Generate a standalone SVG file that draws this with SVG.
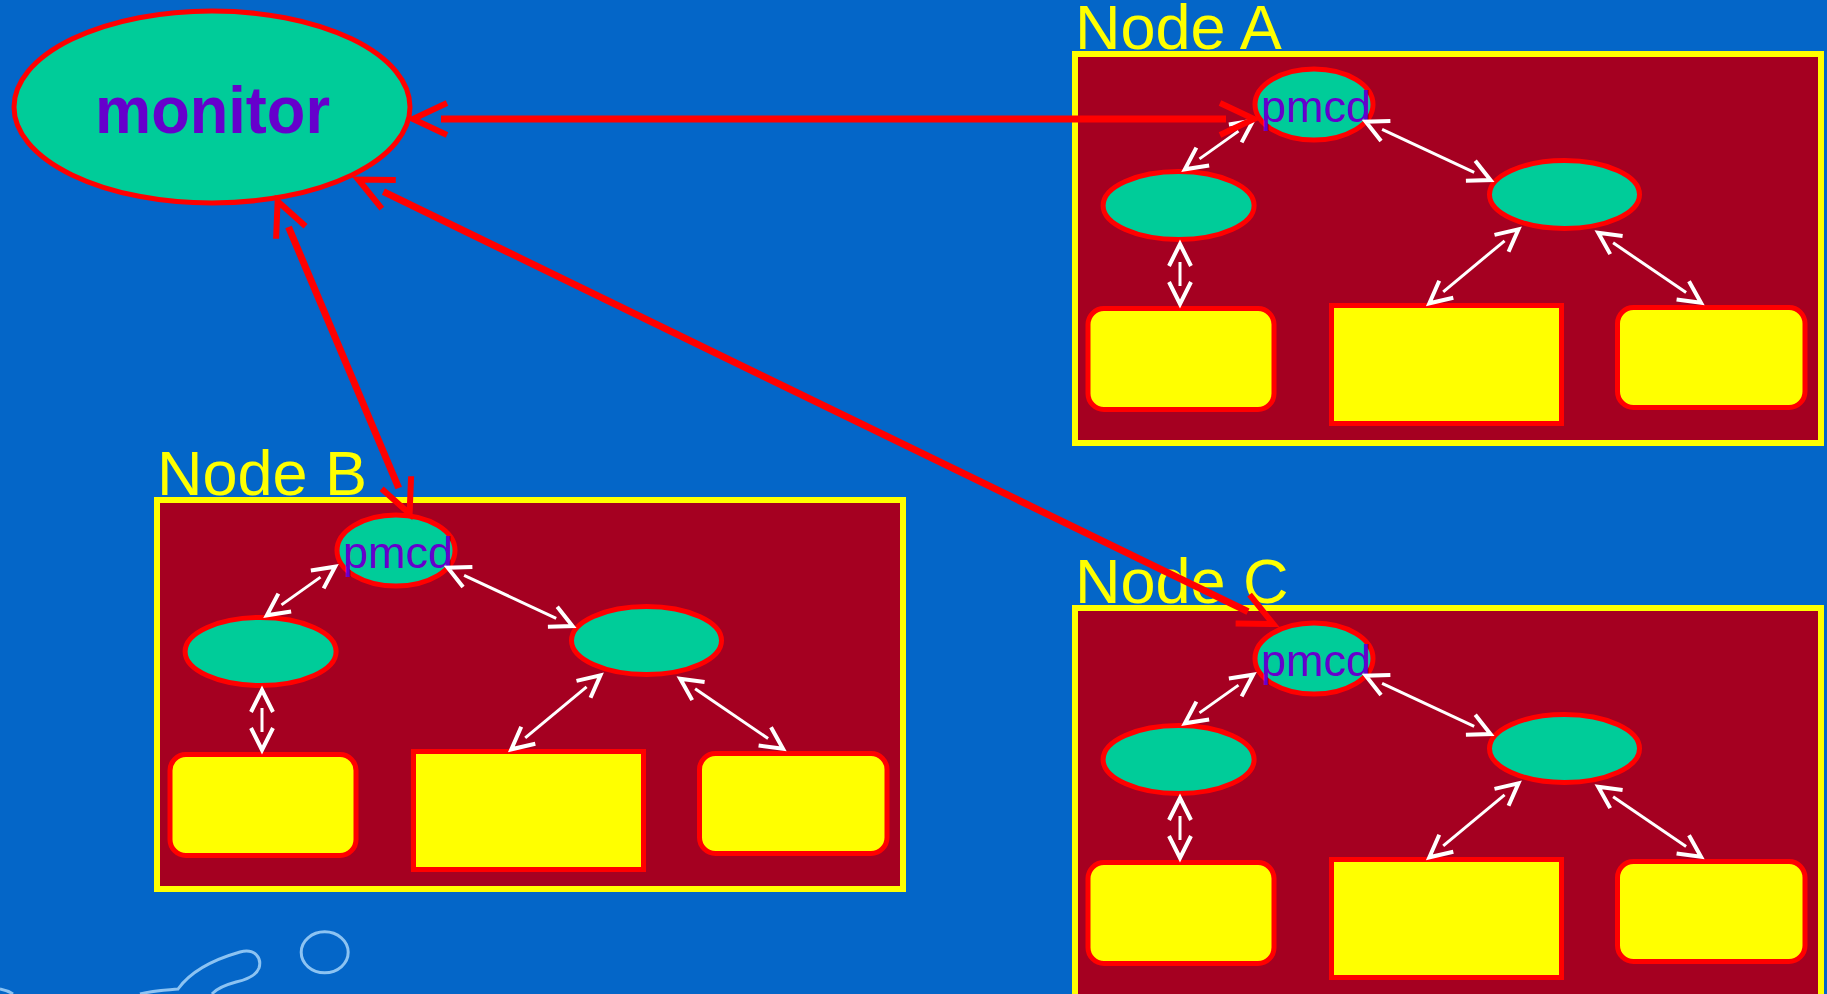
<svg xmlns="http://www.w3.org/2000/svg" width="1827" height="994" viewBox="0 0 1827 994">
<defs>
<style>
.bg{fill:#0466C8}
.box{fill:#A50021;stroke:#FFFF00;stroke-width:6}
.ell{fill:#00CC99;stroke:#FF0000;stroke-width:5}
.rbox{fill:#FFFF00;stroke:#FF0000;stroke-width:5}
.lbl{font-family:"Liberation Sans",Arial,sans-serif;font-size:63px;fill:#FFFF00}
.pm{font-family:"Liberation Sans",Arial,sans-serif;font-size:45px;fill:#6600CC;text-anchor:middle}
.mon{font-family:"Liberation Sans",Arial,sans-serif;font-size:66px;font-weight:bold;fill:#6600CC;text-anchor:middle}
.red{fill:none;stroke:#FF0000;stroke-width:7;marker-start:url(#rh);marker-end:url(#rh)}
.wht{fill:none;stroke:#FFFFFF;stroke-width:3;marker-start:url(#wh);marker-end:url(#wh)}
.deco{fill:none;stroke:#8CC3F2;stroke-width:3}
</style>
<marker id="rh" markerUnits="userSpaceOnUse" orient="auto-start-reverse" refX="0" refY="0" markerWidth="10" markerHeight="10" overflow="visible">
<path d="M-6,-16 L28,0 L-6,16" fill="none" stroke="#FF0000" stroke-width="6"/>
</marker>
<marker id="wh" markerUnits="userSpaceOnUse" orient="auto-start-reverse" refX="0" refY="0" markerWidth="10" markerHeight="10" overflow="visible">
<path d="M-4,-11 L18,0 L-4,11" fill="none" stroke="#FFFFFF" stroke-width="4"/>
</marker>
<g id="inner">
<rect class="box" x="1075" y="54" width="746" height="389"/>
<ellipse class="ell" cx="1314" cy="104.5" rx="59" ry="35.5"/>
<text class="pm" x="1316" y="122">pmcd</text>
<ellipse class="ell" cx="1178.6" cy="205.5" rx="75.5" ry="34"/>
<ellipse class="ell" cx="1564.5" cy="194.5" rx="75" ry="34"/>
<rect class="rbox" x="1088" y="308.5" width="186" height="101" rx="16"/>
<rect class="rbox" x="1331.5" y="305.5" width="230" height="118"/>
<rect class="rbox" x="1617.5" y="307.5" width="187.5" height="100" rx="16"/>
</g>
<g id="warrows">
<path class="wht" d="M1199.5,158.9 L1238.5,131.1"/>
<path class="wht" d="M1382.1,129.3 L1474.2,172.4"/>
<path class="wht" d="M1180,262 L1180,286"/>
<path class="wht" d="M1504.6,240.8 L1443.2,291.8"/>
<path class="wht" d="M1613.1,242.8 L1686.1,292.6"/>
</g>
</defs>
<rect class="bg" x="0" y="0" width="1827" height="994"/>
<g id="decoration">
<ellipse class="deco" cx="324.7" cy="952.3" rx="23.5" ry="20.5"/>
<path class="deco" d="M140,994 C155,990 170,990 178,989 C188,975 205,962 240,952 C255,948 262,958 259,968 C256,976 245,980 236,982 C225,985 216,989 212,994"/>
<path class="deco" d="M0,989 C5,990 10,992 13,994"/>
</g>
<g id="monitor">
<ellipse cx="212" cy="107" rx="198" ry="96" fill="#00CC99" stroke="#FF0000" stroke-width="5"/>
<text class="mon" x="212.5" y="133" textLength="235" lengthAdjust="spacingAndGlyphs">monitor</text>
</g>
<g id="node-a">
<text class="lbl" x="1075" y="49">Node A</text>
<use href="#inner"/>
</g>
<g id="node-b" transform="translate(-918,446)">
<text class="lbl" x="1075" y="49">Node B</text>
<use href="#inner"/>
</g>
<g id="node-c" transform="translate(0,554)">
<text class="lbl" x="1075" y="49">Node C</text>
<use href="#inner"/>
</g>
<g id="connectors">
<use href="#warrows"/>
<use href="#warrows" transform="translate(-918,446)"/>
<use href="#warrows" transform="translate(0,554)"/>
<path class="red" d="M441,119 L1226,119"/>
<path class="red" d="M288.5,227 L398.7,488"/>
<path class="red" d="M383.4,191.7 L1248,611.7"/>
</g>
</svg>
